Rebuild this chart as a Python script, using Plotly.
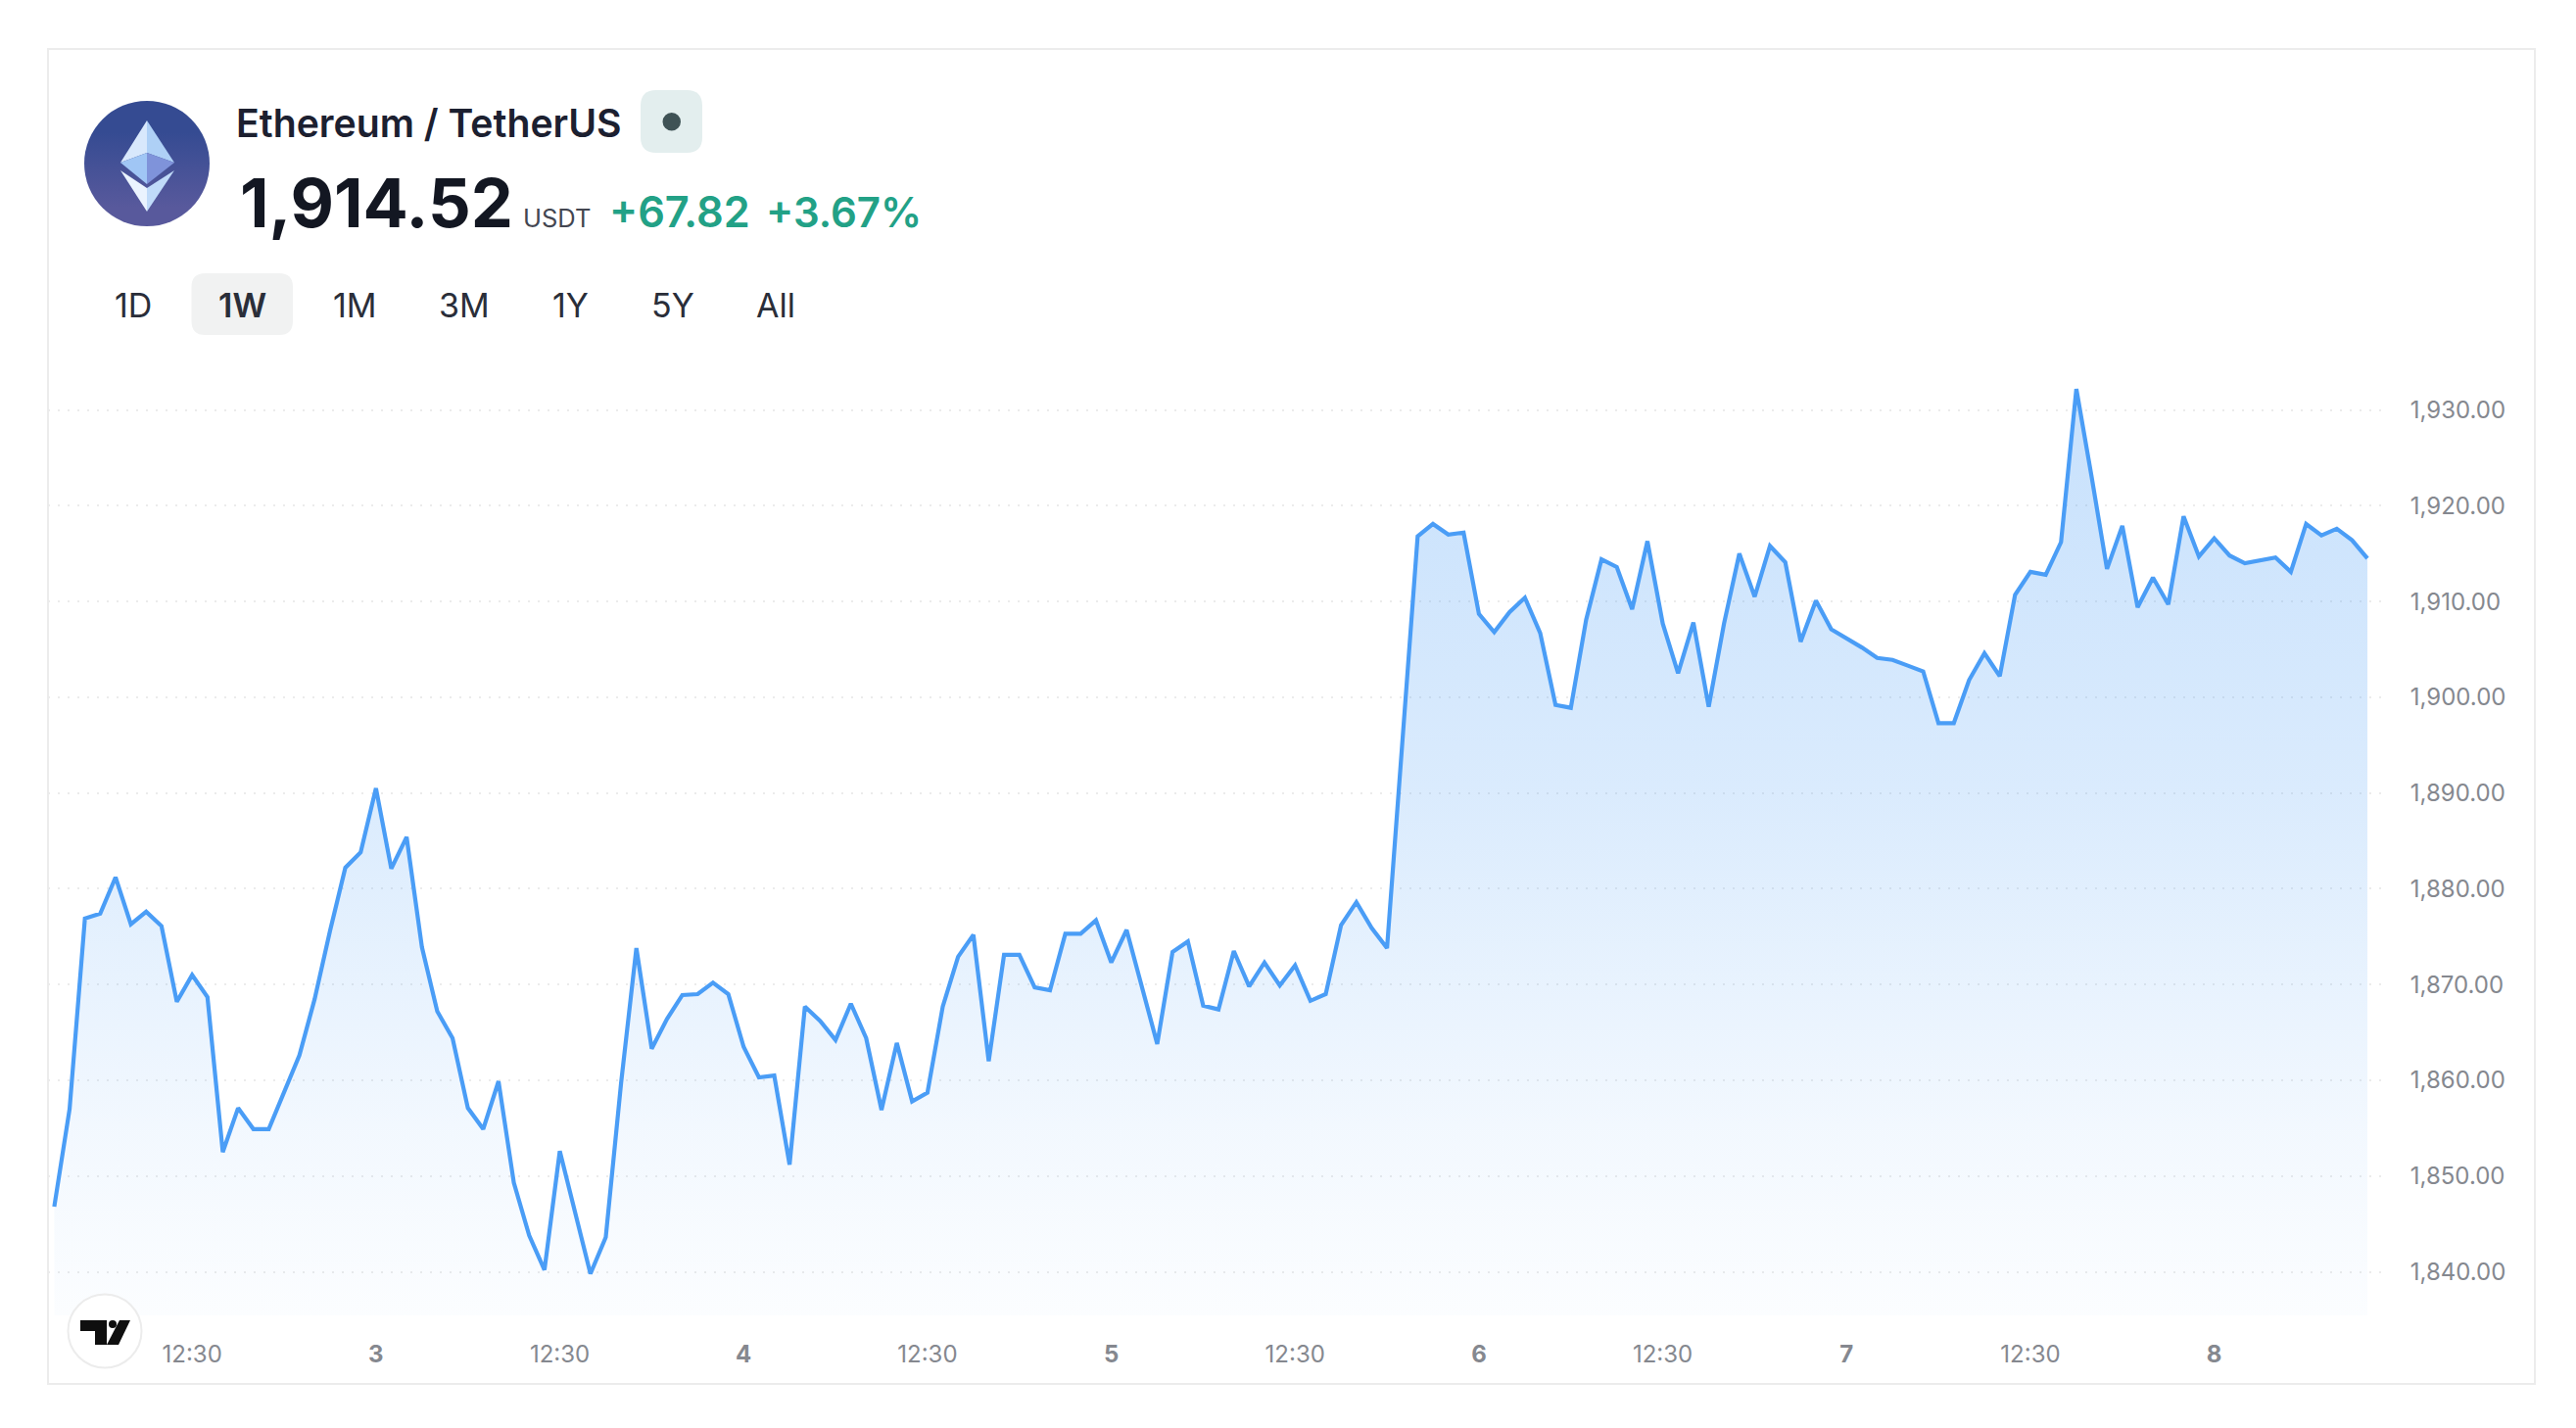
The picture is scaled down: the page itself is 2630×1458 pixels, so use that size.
import base64
import plotly.graph_objects as go

W, H = 2630, 1458
L, R, T, B = 49, 2438, 380, 1343

hours = list(range(152))
prices = [
    1846.8, 1857.0, 1876.9, 1877.4, 1881.2, 1876.3, 1877.6, 1876.1, 1868.2, 1871.0,
    1868.7, 1852.5, 1857.1, 1854.9, 1854.9, 1858.7, 1862.6, 1868.5, 1875.6, 1882.2,
    1883.8, 1890.5, 1882.1, 1885.4, 1873.9, 1867.2, 1864.4, 1857.1, 1854.9, 1859.9,
    1849.3, 1843.8, 1840.2, 1852.6, 1846.1, 1839.8, 1843.6, 1859.7, 1873.8, 1863.3,
    1866.4, 1868.9, 1869.0, 1870.2, 1869.0, 1863.5, 1860.3, 1860.5, 1851.2, 1867.7,
    1866.2, 1864.2, 1868.0, 1864.4, 1856.9, 1863.9, 1857.8, 1858.7, 1867.7, 1872.9,
    1875.2, 1862.0, 1873.1, 1873.1, 1869.7, 1869.4, 1875.3, 1875.3, 1876.7, 1872.3,
    1875.7, 1869.7, 1863.8, 1873.4, 1874.5, 1867.8, 1867.4, 1873.5, 1869.8, 1872.3,
    1869.9, 1872.0, 1868.3, 1869.0, 1876.2, 1878.6, 1875.9, 1873.8, 1895.0, 1916.8,
    1918.1, 1917.0, 1917.2, 1908.7, 1906.8, 1908.9, 1910.4, 1906.7, 1899.2, 1898.9,
    1908.1, 1914.4, 1913.6, 1909.2, 1916.3, 1907.7, 1902.5, 1907.8, 1899.0, 1907.7,
    1915.0, 1910.5, 1915.8, 1914.1, 1905.8, 1910.1, 1907.1, 1906.2, 1905.2, 1904.1,
    1903.9, 1903.3, 1902.7, 1897.3, 1897.3, 1901.8, 1904.6, 1902.2, 1910.7, 1913.1,
    1912.8, 1916.2, 1932.2, 1923.0, 1913.4, 1917.9, 1909.4, 1912.5, 1909.7, 1918.9,
    1914.7, 1916.6, 1914.8, 1914.0, 1914.3, 1914.6, 1913.1, 1918.1, 1916.9, 1917.6,
    1916.4, 1914.5,
]
x_tick_hours = [9, 21, 33, 45, 57, 69, 81, 93, 105, 117, 129, 141]
x_tick_labels = ["12:30", "<b>3</b>", "12:30", "<b>4</b>", "12:30", "<b>5</b>",
                 "12:30", "<b>6</b>", "12:30", "<b>7</b>", "12:30", "<b>8</b>"]
y_ticks = [1840, 1850, 1860, 1870, 1880, 1890, 1900, 1910, 1920, 1930]
range_buttons = ["1D", "1W", "1M", "3M", "1Y", "5Y", "All"]
range_button_x = [136, 247, 362, 473.5, 582.5, 687, 792]

FONT = "Inter, 'Liberation Sans', sans-serif"
TEXT_AXIS = "#85888f"
LINE = "#4a9df6"


def px(x):
    return (x - L) / (R - L)


def py(y):
    return (B - y) / (B - T)


def rounded(x0, y0, x1, y1, r):
    a, b, c, d = px(x0), px(x1), py(y0), py(y1)
    rx, ry = r / (R - L), r / (B - T)
    return (f"M{a+rx},{c} L{b-rx},{c} Q{b},{c} {b},{c-ry} L{b},{d+ry} Q{b},{d} {b-rx},{d} "
            f"L{a+rx},{d} Q{a},{d} {a},{d+ry} L{a},{c-ry} Q{a},{c} {a+rx},{c} Z")


def svg_uri(svg):
    return "data:image/svg+xml;base64," + base64.b64encode(svg.encode()).decode()


eth_svg = """<svg xmlns='http://www.w3.org/2000/svg' width='128' height='128' viewBox='0 0 128 128'>
<defs><linearGradient id='g' x1='0' y1='0' x2='0' y2='1'>
<stop offset='0.25' stop-color='#354b92'/><stop offset='0.85' stop-color='#58599c'/></linearGradient></defs>
<circle cx='64' cy='64' r='64' fill='url(#g)'/>
<polygon points='64,20 37,63 64,53' fill='#d8e8fc'/>
<polygon points='64,20 92,63 64,53' fill='#aed0f6'/>
<polygon points='37,63 64,53 64,85' fill='#a0c6f5'/>
<polygon points='92,63 64,53 64,85' fill='#7f93da'/>
<polygon points='37,71 64,89 64,113' fill='#eaf3fe'/>
<polygon points='92,71 64,89 64,113' fill='#c0dbf9'/>
</svg>"""

tv_svg = """<svg xmlns='http://www.w3.org/2000/svg' width='78' height='78' viewBox='0 0 78 78'>
<circle cx='39' cy='39' r='37.5' fill='#ffffff' stroke='#ececec' stroke-width='2'/>
<path d='M14 28H41V53H29V39H14Z' fill='#0f0f0f'/>
<circle cx='47' cy='32' r='4' fill='#0f0f0f'/>
<path d='M54 28H65L53 53H41Z' fill='#0f0f0f'/>
</svg>"""

fig = go.Figure()
fig.add_trace(go.Scatter(
    x=hours, y=prices, mode="lines",
    line=dict(color=LINE, width=4.2),
    fill="tozeroy",
    fillgradient=dict(
        type="vertical", start=1933, stop=1835.4,
        colorscale=[[0, "rgba(74,157,246,0.31)"], [0.45, "rgba(74,157,246,0.20)"],
                    [0.8, "rgba(74,157,246,0.07)"], [1, "rgba(74,157,246,0.02)"]],
    ),
    hoverinfo="x+y", showlegend=False,
))

shapes = [
    dict(type="rect", xref="paper", yref="paper", x0=px(49), x1=px(2588), y0=py(50), y1=py(1413),
         line=dict(color="#ececec", width=2), fillcolor="rgba(0,0,0,0)", layer="below"),
    dict(type="path", xref="paper", yref="paper", path=rounded(654, 92, 717, 156, 16),
         fillcolor="#e3eeee", line=dict(width=0), layer="below"),
    dict(type="circle", xref="paper", yref="paper", x0=px(676.5), x1=px(695), y0=py(115), y1=py(133.5),
         fillcolor="#3f5255", line=dict(width=0), layer="above"),
    dict(type="path", xref="paper", yref="paper", path=rounded(195.5, 279, 299, 342, 14),
         fillcolor="#f1f2f2", line=dict(width=0), layer="below"),
]

ann = []


def text(s, x, y, size, color, anchor="left", weight=400):
    ann.append(dict(text=s, x=px(x), y=py(y), xref="paper", yref="paper", showarrow=False,
                    xanchor=anchor, yanchor="middle", xshift=0, yshift=0,
                    font=dict(family=FONT, size=size, color=color, weight=weight)))


text("Ethereum / TetherUS", 239, 125, 39.2, "#1c2030", weight=600)
text("1,914.52", 243, 208, 68.5, "#131722", weight=700)
text("USDT", 532, 222, 25.5, "#434651")
text("+67.82", 620, 216, 43.3, "#22a186", weight=600)
text("+3.67%", 780, 216, 42, "#22a186", weight=600)
for label, bx in zip(range_buttons, range_button_x):
    text(label, bx, 311, 34, "#2a2e39", anchor="center", weight=600 if label == "1W" else 400)

images = [
    dict(source=svg_uri(eth_svg), xref="paper", yref="paper", x=px(86), y=py(103),
         sizex=128 / (R - L), sizey=128 / (B - T), xanchor="left", yanchor="top",
         sizing="stretch", layer="above"),
    dict(source=svg_uri(tv_svg), xref="paper", yref="paper", x=px(68), y=py(1320),
         sizex=78 / (R - L), sizey=78 / (B - T), xanchor="left", yanchor="top",
         sizing="stretch", layer="above"),
]

fig.update_layout(
    width=W, height=H, autosize=False,
    margin=dict(l=L, r=W - R, t=T, b=H - B, pad=0),
    paper_bgcolor="#ffffff", plot_bgcolor="rgba(0,0,0,0)",
    font=dict(family=FONT, color=TEXT_AXIS),
    shapes=shapes, annotations=ann, images=images,
    xaxis=dict(
        range=[-0.41, 152.34], tickmode="array", tickvals=x_tick_hours, ticktext=x_tick_labels,
        showgrid=False, zeroline=False, showline=False,
        ticks="outside", ticklen=18, tickcolor="rgba(0,0,0,0)", tickfont=dict(size=24, color=TEXT_AXIS),
    ),
    yaxis=dict(
        side="right", range=[1835.45, 1933.95], tickmode="array", tickvals=y_ticks,
        tickformat=",.2f", showgrid=True, gridcolor="#ebebeb", gridwidth=2, griddash="2px,8px",
        zeroline=False, showline=False,
        ticks="outside", ticklen=17, tickcolor="rgba(0,0,0,0)", tickfont=dict(size=24, color=TEXT_AXIS),
    ),
)

fig.write_html("out.html", config=dict(displayModeBar=False),
               post_script="document.body.style.margin='0';")
